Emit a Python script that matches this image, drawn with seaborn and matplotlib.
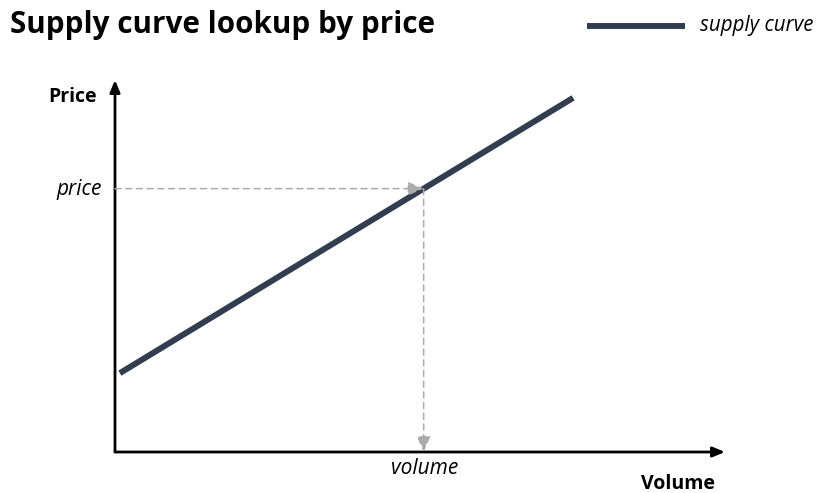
import numpy as np
import pandas as pd
import matplotlib
matplotlib.use("Agg")
import matplotlib.pyplot as plt
import seaborn as sns

# Data
supply_volume = [0.8, 75.1]
supply_price = [21.2, 95.2]
lookup_price = 70.8
lookup_volume = float(np.interp(lookup_price, supply_price, supply_volume))
axis_labels = ["Volume", "Price"]
lookup_labels = ["volume", "price"]
series_name = "supply curve"
title = "Supply curve lookup by price"

sns.set_theme(style="white")
plt.rcParams['font.family'] = ['Open Sans', 'DejaVu Sans']
plt.rcParams['text.color'] = 'black'

fig = plt.figure(figsize=(8.16, 4.93), dpi=100)
ax = fig.add_axes([115/816, 41/493, 610/816, 372/493])
ax.set_xlim(0, 100)
ax.set_ylim(0, 100)
for s in ax.spines.values():
    s.set_visible(False)
ax.set_xticks([])
ax.set_yticks([])
ax.patch.set_alpha(0)

line_color = "#323E4F"
df = pd.DataFrame({"volume": supply_volume, "price": supply_price})
sns.lineplot(data=df, x="volume", y="price", ax=ax, color=line_color,
             linewidth=4.3, legend=False)
ax.lines[-1].set_solid_capstyle("butt")
ax.set_xlabel("")
ax.set_ylabel("")

# Axes with arrows
for end in [(100, 0), (0, 100)]:
    ax.annotate("", xy=end, xytext=(0, 0), xycoords="data",
                arrowprops=dict(arrowstyle="-|>,head_length=0.6,head_width=0.25",
                                color="black", lw=2.0, shrinkA=0, shrinkB=0),
                annotation_clip=False)

# Dashed lookup lines
gray = "#ABABAB"
ax.annotate("", xy=(lookup_volume, lookup_price), xytext=(0, lookup_price),
            arrowprops=dict(arrowstyle="-|>,head_length=0.8,head_width=0.35",
                            color=gray, lw=1.1, linestyle=(0, (4, 3)),
                            shrinkA=0, shrinkB=0))
ax.annotate("", xy=(lookup_volume, 0), xytext=(lookup_volume, lookup_price),
            arrowprops=dict(arrowstyle="-|>,head_length=0.8,head_width=0.35",
                            color=gray, lw=1.1, linestyle=(0, (4, 3)),
                            shrinkA=0, shrinkB=0))

# Labels
fig.text(10/816, 1 - 25/493, title, fontsize=21.3, fontweight="bold",
         ha="left", va="center", color="black")
fig.text(97/816, 1 - 97/493, axis_labels[1], fontsize=14, fontweight="bold",
         ha="right", va="center", color="black")
fig.text(715/816, 1 - 484/493, axis_labels[0], fontsize=14, fontweight="bold",
         ha="right", va="center", color="black")
fig.text(102/816, 1 - 189/493, lookup_labels[1], fontsize=15, style="italic",
         ha="right", va="center", color="black")
fig.text(425/816, 1 - 468/493, lookup_labels[0], fontsize=15, style="italic",
         ha="center", va="center", color="black")

# Legend
fig.add_artist(plt.Line2D([587/816, 685/816], [1 - 26/493, 1 - 26/493],
                          color=line_color, lw=4.3, solid_capstyle="butt"))
fig.text(700/816, 1 - 25/493, series_name, fontsize=14.8, style="italic",
         ha="left", va="center", color="black")

fig.savefig("out.png", dpi=100)
